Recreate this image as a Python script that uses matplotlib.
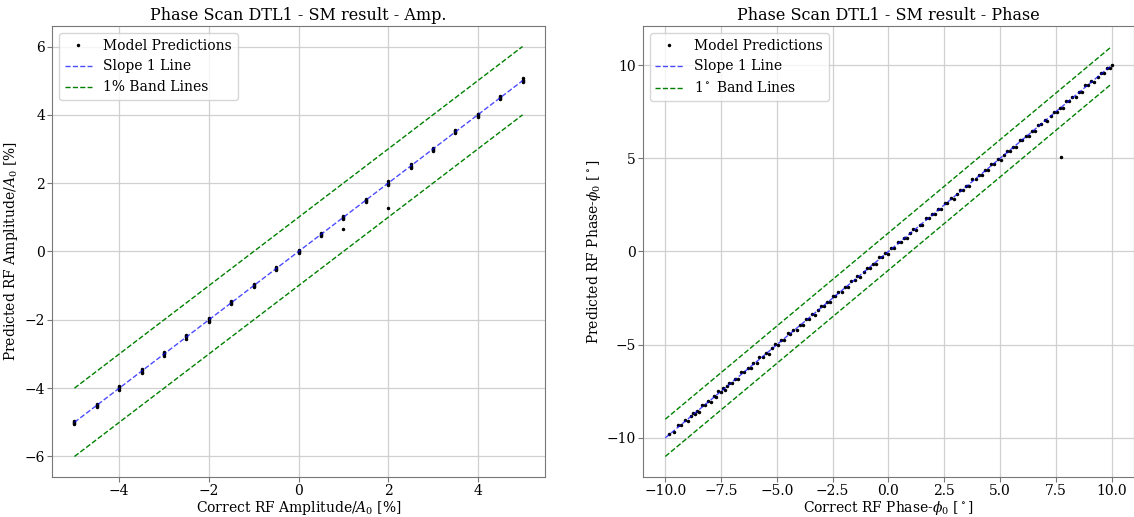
import numpy as np
import matplotlib
matplotlib.use("Agg")
import matplotlib.pyplot as plt

# ............................................
# DATA
# ............................................
amp_true = [
    -5.0, -5.0, -5.0, -5.0,
    -4.5, -4.5, -4.5, -4.5,
    -4.0, -4.0, -4.0, -4.0,
    -3.5, -3.5, -3.5, -3.5,
    -3.0, -3.0, -3.0, -3.0,
    -2.5, -2.5, -2.5, -2.5,
    -2.0, -2.0, -2.0, -2.0,
    -1.5, -1.5, -1.5, -1.5,
    -1.0, -1.0, -1.0, -1.0,
    -0.5, -0.5, -0.5, -0.5,
    0.0, 0.0, 0.0, 0.0,
    0.5, 0.5, 0.5, 0.5,
    1.0, 1.0, 1.0, 1.0, 1.0,
    1.5, 1.5, 1.5, 1.5,
    2.0, 2.0, 2.0, 2.0, 2.0,
    2.5, 2.5, 2.5, 2.5,
    3.0, 3.0, 3.0, 3.0,
    3.5, 3.5, 3.5, 3.5,
    4.0, 4.0, 4.0, 4.0,
    4.5, 4.5, 4.5, 4.5,
    5.0, 5.0, 5.0, 5.0,
]
amp_pred = [
    -5.06, -5.02, -4.98, -4.95,
    -4.56, -4.52, -4.49, -4.46,
    -4.05, -4.01, -3.97, -3.94,
    -3.55, -3.52, -3.48, -3.45,
    -3.05, -3.01, -2.97, -2.93,
    -2.56, -2.51, -2.47, -2.43,
    -2.06, -2.02, -1.98, -1.95,
    -1.55, -1.51, -1.48, -1.46,
    -1.05, -1.02, -0.98, -0.96,
    -0.55, -0.51, -0.48, -0.45,
    -0.04, -0.01, 0.02, 0.05,
    0.45, 0.48, 0.51, 0.54,
    0.94, 0.97, 1.01, 1.04, 0.66,
    1.45, 1.48, 1.51, 1.53,
    1.95, 1.98, 2.01, 2.05, 1.28,
    2.45, 2.48, 2.51, 2.55,
    2.95, 2.98, 3.01, 3.04,
    3.46, 3.49, 3.52, 3.55,
    3.95, 3.98, 4.01, 4.03,
    4.45, 4.48, 4.52, 4.56,
    4.96, 4.99, 5.03, 5.07,
]

phase_true = [
    -9.82, -9.61, -9.44, -9.30, -9.12, -8.97, -8.85, -8.74, -8.66, -8.58,
    -8.49, -8.37, -8.22, -8.10, -7.96, -7.83, -7.71, -7.62, -7.50, -7.41,
    -7.33, -7.24, -7.15, -7.02, -6.88, -6.74, -6.61, -6.47, -6.30, -6.18,
    -6.05, -5.91, -5.78, -5.62, -5.50, -5.37, -5.21, -5.08, -4.95, -4.81,
    -4.66, -4.52, -4.41, -4.27, -4.12, -3.98, -3.85, -3.71, -3.57, -3.44,
    -3.30, -3.16, -3.02, -2.88, -2.75, -2.63, -2.50, -2.38, -2.24, -2.09,
    -1.95, -1.81, -1.68, -1.52, -1.40, -1.26, -1.11, -0.97, -0.84, -0.70,
    -0.55, -0.42, -0.29, -0.15, -0.02, 0.12, 0.26, 0.41, 0.55, 0.68,
    0.83, 0.97, 1.10, 1.24, 1.39, 1.52, 1.66, 1.81, 1.95, 2.08,
    2.22, 2.37, 2.51, 2.64, 2.78, 2.93, 3.06, 3.20, 3.35, 3.49,
    3.62, 3.76, 3.91, 4.05, 4.18, 4.33, 4.47, 4.60, 4.74, 4.89,
    5.02, 5.16, 5.31, 5.45, 5.58, 5.72, 5.87, 6.00, 6.14, 6.29,
    6.43, 6.56, 6.70, 6.85, 6.99, 7.12, 7.26, 7.41, 7.55, 7.68,
    7.82, 7.97, 8.10, 8.24, 8.39, 8.53, 8.66, 8.80, 8.95, 9.08,
    9.22, 9.37, 9.51, 9.64, 9.78, 9.93, 10.00, 7.72,
]
phase_pred = [
    -9.77, -9.69, -9.33, -9.33, -9.05, -9.09, -8.83, -8.65, -8.72, -8.54,
    -8.59, -8.24, -8.24, -8.04, -8.05, -7.78, -7.79, -7.51, -7.53, -7.34,
    -7.45, -7.22, -7.06, -7.08, -6.84, -6.84, -6.48, -6.49, -6.24, -6.27,
    -6.00, -5.99, -5.67, -5.65, -5.43, -5.49, -5.19, -4.99, -5.01, -4.77,
    -4.76, -4.39, -4.43, -4.21, -4.21, -3.93, -3.93, -3.60, -3.60, -3.37,
    -3.42, -3.14, -2.93, -2.94, -2.71, -2.73, -2.37, -2.40, -2.18, -2.18,
    -1.90, -1.89, -1.57, -1.55, -1.33, -1.38, -1.09, -0.88, -0.90, -0.66,
    -0.65, -0.29, -0.31, -0.09, -0.11, 0.17, 0.18, 0.52, 0.52, 0.75,
    0.71, 0.99, 1.19, 1.18, 1.43, 1.42, 1.79, 1.79, 2.01, 1.99,
    2.27, 2.29, 2.62, 2.61, 2.85, 2.81, 3.08, 3.29, 3.29, 3.53,
    3.52, 3.89, 3.89, 4.11, 4.09, 4.38, 4.39, 4.71, 4.71, 4.96,
    4.90, 5.18, 5.40, 5.39, 5.62, 5.62, 6.00, 5.98, 6.20, 6.20,
    6.48, 6.48, 6.81, 6.82, 7.06, 7.00, 7.28, 7.50, 7.49, 7.72,
    7.72, 8.10, 8.08, 8.30, 8.30, 8.58, 8.58, 8.91, 8.92, 9.15,
    9.10, 9.39, 9.60, 9.58, 9.82, 9.83, 10.02, 5.09,
]

amp_range = [-5, 5]
amp_band = 1.0
phase_range = [-10, 10]
phase_band = 1.0

plt.rcParams["font.family"] = "DejaVu Serif"
plt.rcParams["mathtext.fontset"] = "dejavuserif"
plt.rcParams["font.size"] = 10


def style_axes(ax):
    ax.grid(True, color="#d0d0d0", linewidth=0.9)
    ax.set_axisbelow(True)
    for s in ax.spines.values():
        s.set_color("#777777")
    ax.tick_params(colors="#777777", labelcolor="black", length=3.5,
                   pad=1.5, labelsize=10)


def panel(ax, xt, yp, rng, band, title, xlabel, ylabel, band_label):
    rng = np.array(rng, dtype=float)
    ax.plot(xt, yp, ".", color="black", markersize=3, label="Model Predictions")
    ax.plot(rng, rng, "--", color="blue", linewidth=1, alpha=0.7, label="Slope 1 Line")
    ax.plot(rng, rng + band, "--", color="green", linewidth=1, label=band_label)
    ax.plot(rng, rng - band, "--", color="green", linewidth=1)
    ax.set_title(title, fontsize=11.5, pad=4)
    ax.set_xlabel(xlabel, fontsize=10, labelpad=1)
    ax.set_ylabel(ylabel, fontsize=10, labelpad=3)
    ax.legend(loc="upper left", fontsize=10)
    style_axes(ax)


fig = plt.figure(figsize=(11.34, 5.17), dpi=100)
ax1 = fig.add_axes([0.0459, 0.0774, 0.4347, 0.8723])
ax2 = fig.add_axes([0.567, 0.0774, 0.433, 0.8723])

panel(ax1, amp_true, amp_pred, amp_range, amp_band,
      "Phase Scan DTL1 - SM result - Amp.",
      "Correct RF Amplitude/$A_0$ [%]",
      "Predicted RF Amplitude/$A_0$ [%]",
      "1% Band Lines")

panel(ax2, phase_true, phase_pred, phase_range, phase_band,
      "Phase Scan DTL1 - SM result - Phase",
      r"Correct RF Phase-$\phi_0$ [$^\circ$]",
      r"Predicted RF Phase-$\phi_0$ [$^\circ$]",
      r"1$^\circ$ Band Lines")
ax2.set_xticks([-10, -7.5, -5, -2.5, 0, 2.5, 5, 7.5, 10])

fig.savefig("out.png", dpi=100)
